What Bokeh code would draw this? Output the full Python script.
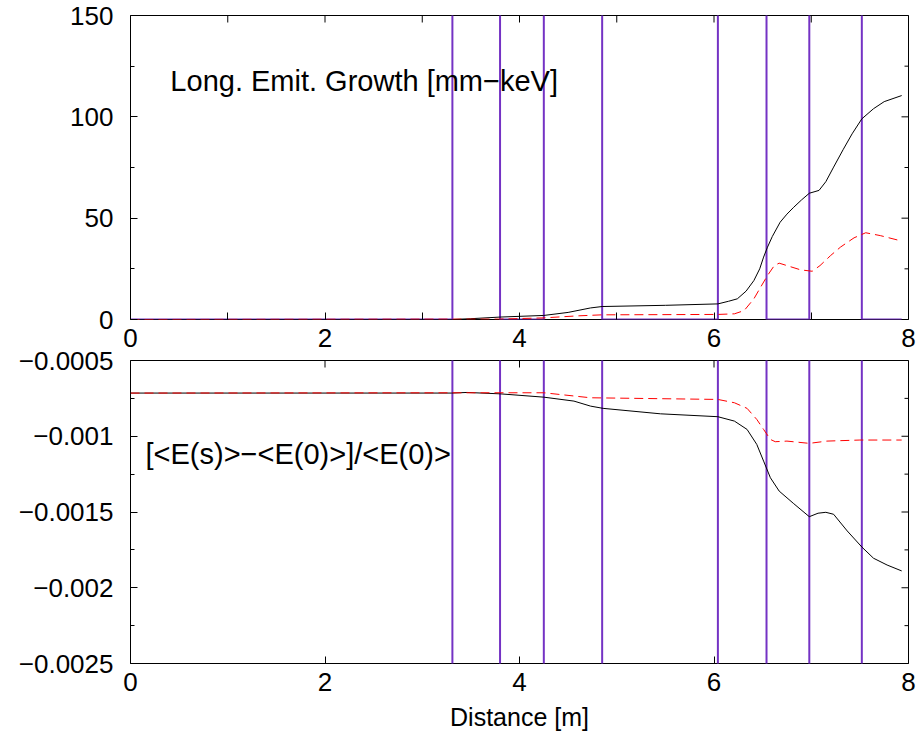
import math
from bokeh.plotting import figure
from bokeh.layouts import column
from bokeh.models import Range1d, FixedTicker
from bokeh.core.properties import value
from bokeh.embed import file_html
from bokeh.resources import INLINE

# ---------------- data ----------------
# Dipole (bend) locations [m]
bend_start = [3.31, 4.25, 6.04, 6.98]
bend_end = [3.80, 4.85, 6.54, 7.52]
s_end = 7.93

# Longitudinal emittance growth [mm-keV]
emit_black_s = [0, 3.3, 3.5, 3.8, 4.25, 4.5, 4.73, 4.85, 5.5, 6.04, 6.15, 6.24, 6.33,
                6.41, 6.47, 6.51, 6.55, 6.6, 6.68, 6.75, 6.82, 6.9, 6.98, 7.08, 7.15,
                7.23, 7.33, 7.42, 7.52, 7.64, 7.75, 7.93]
emit_black = [0, 0, 0.4, 1.2, 2.0, 3.5, 5.7, 6.4, 7.0, 7.7, 9.0, 10.2, 14.0,
              19.2, 25.0, 30.8, 35.7, 41.0, 48.0, 52.0, 55.4, 59.0, 62.3, 63.7, 68.0,
              75.2, 84.0, 91.6, 99.0, 104.0, 107.5, 110.5]
emit_red_s = [0, 3.8, 4.25, 4.6, 4.85, 6.04, 6.21, 6.31, 6.41, 6.48, 6.55, 6.62, 6.67,
              6.75, 6.89, 7.01, 7.09, 7.2, 7.3, 7.44, 7.56, 7.71, 7.93]
emit_red = [0, 0.2, 0.8, 1.8, 2.3, 2.5, 2.8, 4.4, 10.2, 16.0, 21.7, 26.6, 27.8,
            26.6, 24.5, 23.8, 26.6, 31.6, 35.7, 40.3, 42.8, 41.4, 38.7]

# Relative mean energy change [<E(s)>-<E(0)>]/<E(0)>
de_black_s = [0, 3.3, 3.46, 3.8, 4.25, 4.56, 4.73, 4.86, 5.45, 6.04, 6.21, 6.34, 6.44,
              6.51, 6.58, 6.67, 6.82, 6.98, 7.07, 7.15, 7.23, 7.37, 7.52, 7.64, 7.78, 7.93]
de_black = [-0.000715, -0.000715, -0.000711, -0.00072, -0.000742, -0.000768, -0.000801,
            -0.000816, -0.000852, -0.000871, -0.0009, -0.000955, -0.001054, -0.001164,
            -0.001274, -0.001362, -0.001445, -0.001531, -0.001508, -0.001502, -0.001515,
            -0.001625, -0.001731, -0.001805, -0.00185, -0.001889]
de_red_s = [0, 3.8, 4.25, 4.73, 6.04, 6.21, 6.34, 6.44, 6.51, 6.58, 6.63, 6.75, 6.98,
            7.16, 7.5, 7.93]
de_red = [-0.000715, -0.000713, -0.000713, -0.000746, -0.000757, -0.000779, -0.000816,
          -0.000889, -0.000955, -0.001021, -0.001036, -0.001032, -0.001047, -0.001032,
          -0.001025, -0.001025]

x_ticks = [0, 2, 4, 6, 8]
x_minor = [1, 3, 5, 7]
top_ticks = [0, 50, 100, 150]
top_minor = [25, 75, 125]
bot_ticks = [-0.0025, -0.002, -0.0015, -0.001, -0.0005]
bot_minor = [-0.00225, -0.00175, -0.00125, -0.00075]
bot_labels = {-0.0025: "\u22120.0025", -0.002: "\u22120.002", -0.0015: "\u22120.0015",
              -0.001: "\u22120.001", -0.0005: "\u22120.0005"}

label_top = "Long. Emit. Growth [mm\u2212keV]"
label_bot = "[<E(s)>\u2212<E(0)>]/<E(0)>"
xlabel = "Distance [m]"


def bend_profile(lo, hi):
    xs, ys = [0], [lo]
    for a, b in zip(bend_start, bend_end):
        xs += [a, a, b, b]
        ys += [lo, hi, hi, lo]
    xs.append(s_end)
    ys.append(lo)
    return xs, ys


FONT = "Liberation Sans"
PURPLE = "#7432c4"
MAJ = 7
MIN = 4
OVERLAP = 22


def style(p, xt, xm, yr, yt, ym):
    p.outline_line_color = "black"
    p.outline_line_width = 1
    p.grid.visible = False
    p.background_fill_color = "white"
    xa = p.below[0]
    ya = p.left[0]
    for ax in (xa, ya):
        ax.axis_line_color = None
        ax.major_tick_in = MAJ
        ax.major_tick_out = 0
        ax.minor_tick_out = 0
        ax.major_tick_line_color = "black"
        ax.minor_tick_line_color = "black"
        ax.major_label_text_font = FONT
        ax.major_label_text_font_size = "26px"
        ax.major_label_text_color = "black"
    xa.minor_tick_in = MAJ
    ya.minor_tick_in = MIN
    xa.ticker = FixedTicker(ticks=xt, minor_ticks=xm)
    ya.ticker = FixedTicker(ticks=yt, minor_ticks=ym)
    xa.major_label_standoff = 9
    ya.major_label_standoff = 17
    # mirrored ticks on the top and right edges of the frame
    xtop = list(xt) + list(xm)
    p.scatter(xtop, [yr[1]] * len(xtop), marker="dash", size=2 * MAJ,
              angle=math.pi / 2, line_color="black", line_width=1)
    p.scatter([8] * len(yt), yt, marker="dash", size=2 * MAJ,
              line_color="black", line_width=1)
    p.scatter([8] * len(ym), ym, marker="dash", size=2 * MIN,
              line_color="black", line_width=1)
    return xa, ya


# ---------------- top panel ----------------
p1 = figure(width=920, height=360, output_backend="svg", toolbar_location=None,
            x_range=Range1d(0, 8), y_range=Range1d(0, 150),
            min_border_left=130, min_border_right=12, min_border_top=15,
            min_border_bottom=41)
p1.border_fill_color = "white"
bx, by = bend_profile(0, 400)
p1.line(bx, by, line_color=PURPLE, line_width=2)
p1.line(emit_black_s, emit_black, line_color="black", line_width=1)
p1.line(emit_red_s, emit_red, line_color="red", line_width=1, line_dash="9 5")
style(p1, x_ticks, x_minor, (0, 150), top_ticks, top_minor)
p1.text(x=[0.41], y=[117.6], text=[label_top], text_font=value(FONT),
        text_font_size="29px", text_baseline="alphabetic", text_align="left",
        text_color="black")

# ---------------- bottom panel ----------------
p2 = figure(width=920, height=386 + OVERLAP, output_backend="svg", toolbar_location=None,
            x_range=Range1d(0, 8), y_range=Range1d(-0.0025, -0.0005),
            min_border_left=130, min_border_right=12, min_border_top=OVERLAP,
            min_border_bottom=83)
p2.border_fill_alpha = 0
p2.margin = (-OVERLAP, 0, 0, 0)
bx2, by2 = bend_profile(-0.01, 0.01)
p2.line(bx2, by2, line_color=PURPLE, line_width=2)
p2.line(de_black_s, de_black, line_color="black", line_width=1)
p2.line(de_red_s, de_red, line_color="red", line_width=1, line_dash="9 5")
xa2, ya2 = style(p2, x_ticks, [], (-0.0025, -0.0005), bot_ticks, bot_minor)
ya2.major_label_overrides = bot_labels
xa2.axis_label = xlabel
xa2.axis_label_text_font = FONT
xa2.axis_label_text_font_size = "25px"
xa2.axis_label_text_font_style = "normal"
xa2.axis_label_text_color = "black"
xa2.axis_label_standoff = 9
p2.text(x=[0.154], y=[-0.001115], text=[label_bot], text_font=value(FONT),
        text_font_size="29px", text_baseline="alphabetic", text_align="left",
        text_color="black")

layout = column(p1, p2, spacing=0)
open("out.html", "w").write(file_html(layout, INLINE))
